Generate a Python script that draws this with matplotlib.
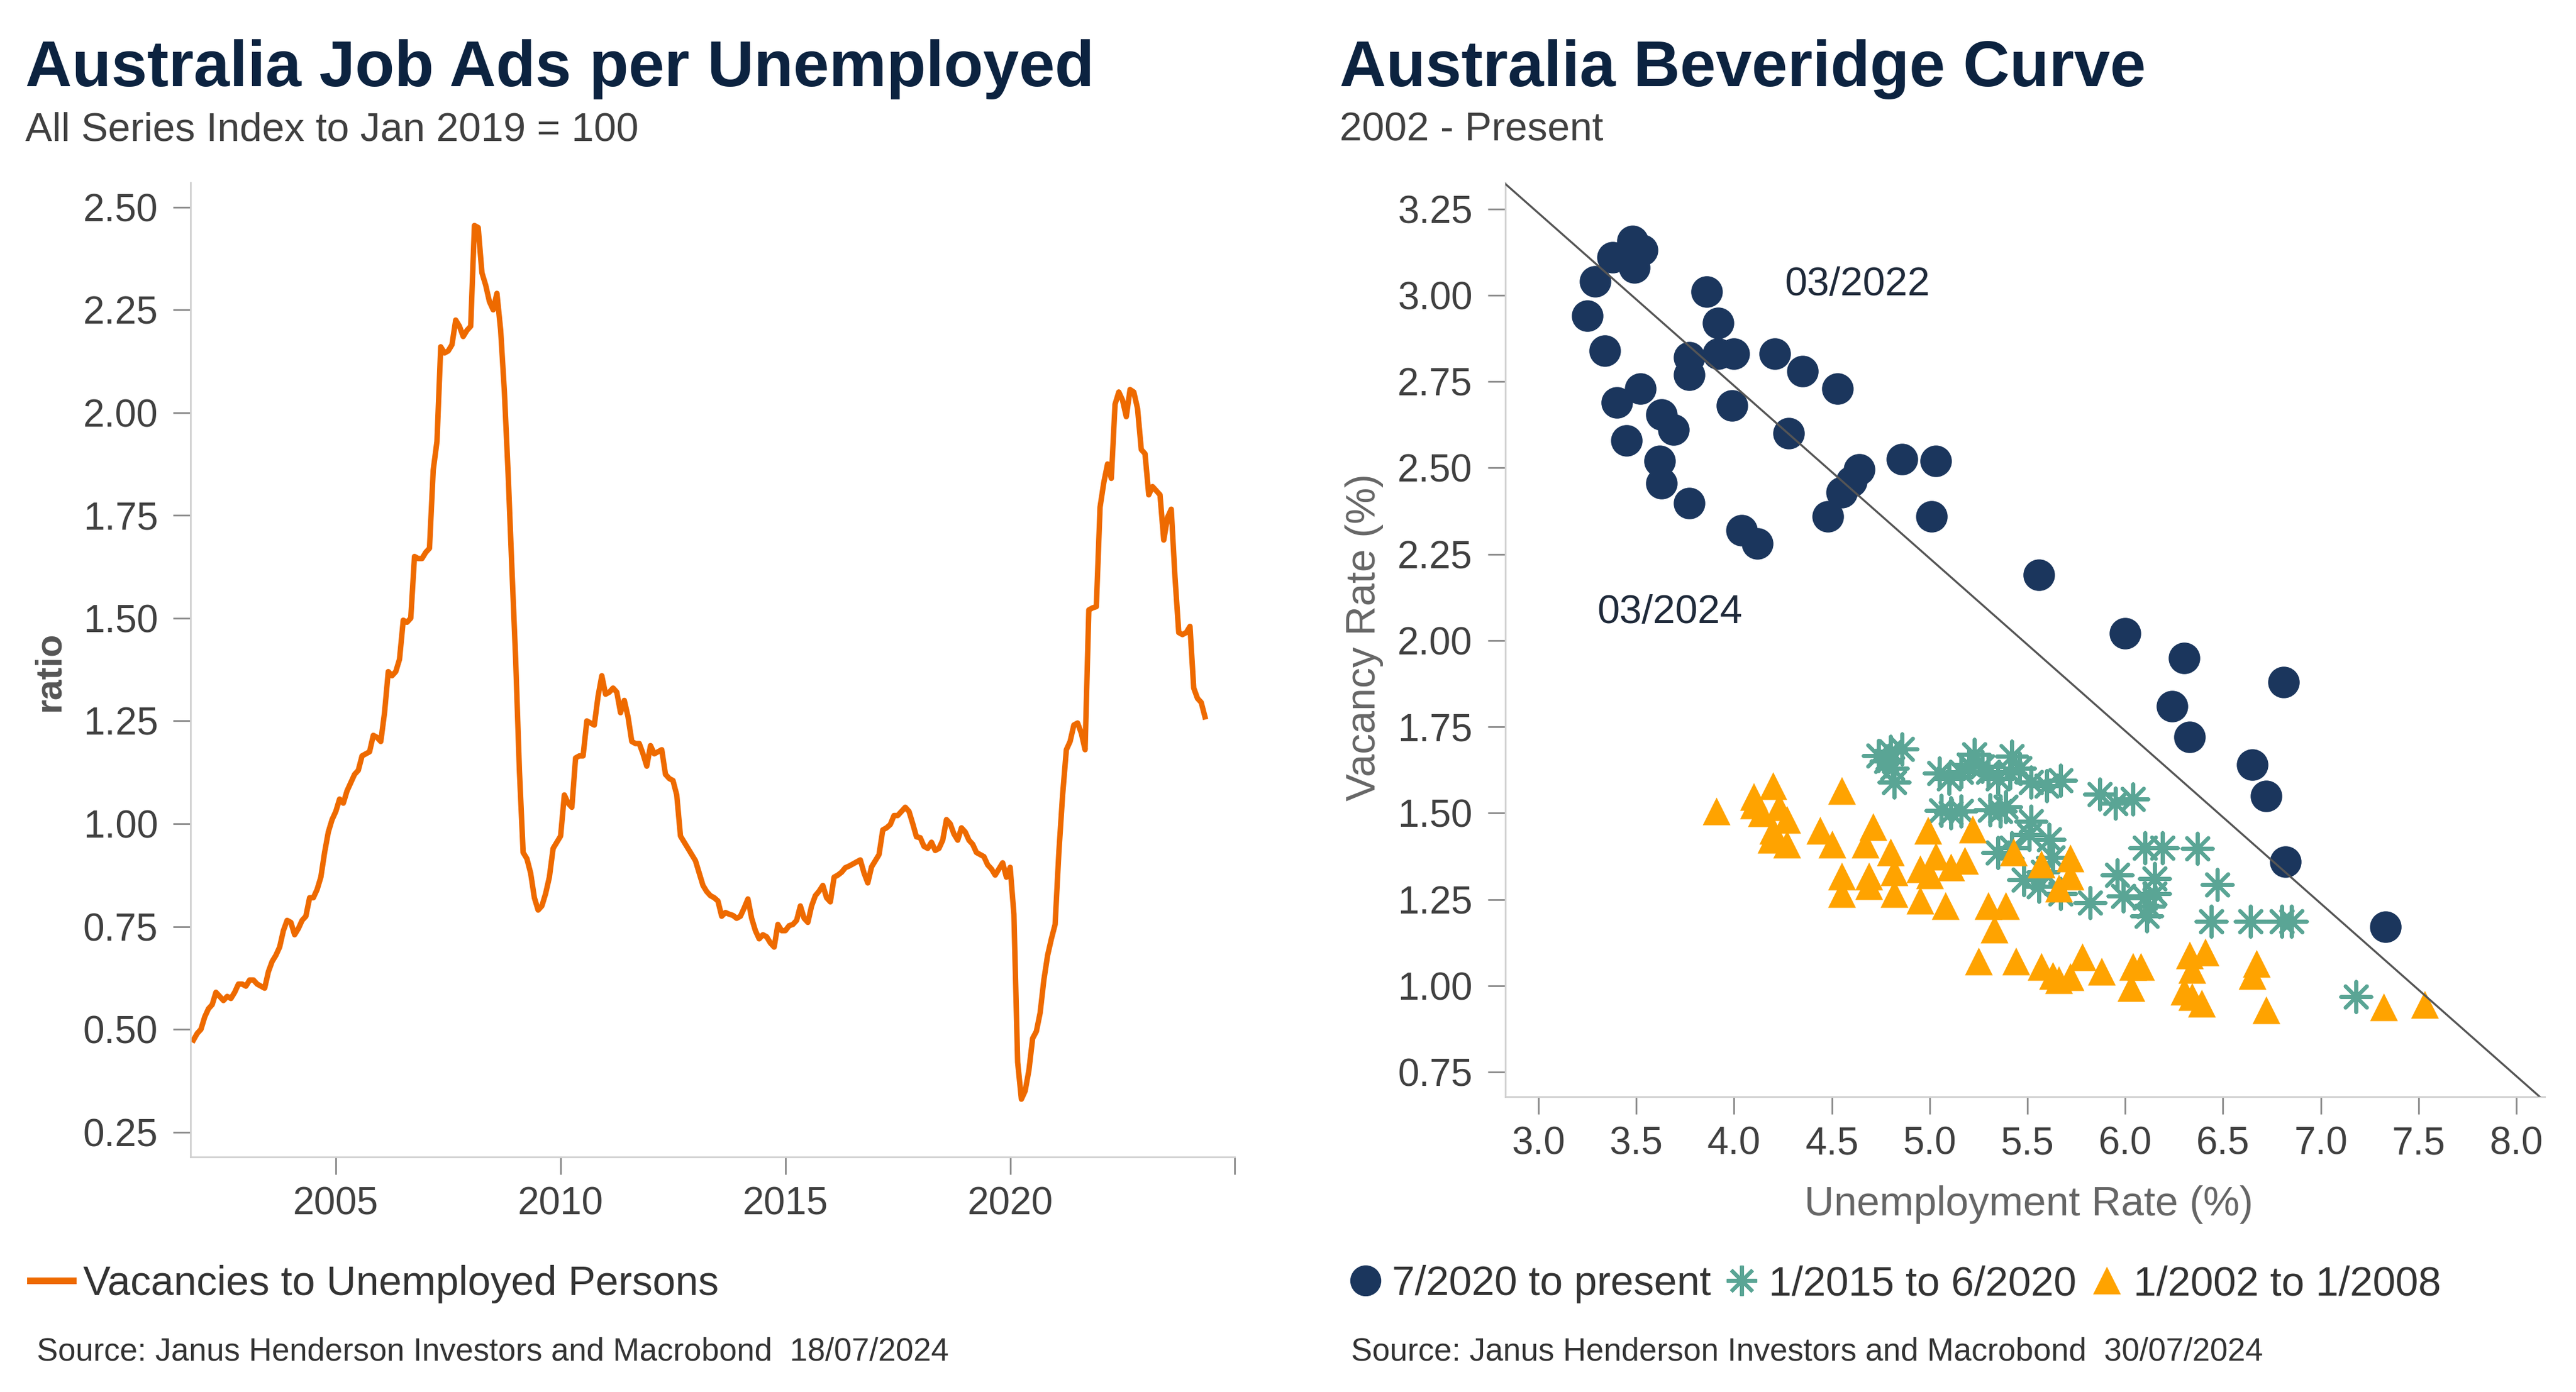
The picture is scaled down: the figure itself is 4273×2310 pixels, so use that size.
import numpy as np
import matplotlib
matplotlib.use("Agg")
import matplotlib.pyplot as plt
from matplotlib.lines import Line2D

plt.rcParams['font.family'] = ['Liberation Sans', 'DejaVu Sans']

# job ads per unemployed, monthly from Nov 2001
start_year = 2001 + 10 / 12
ratio = [
    0.474, 0.49, 0.50, 0.53, 0.55, 0.56, 0.59, 0.58, 0.57, 0.58,
    0.575, 0.59, 0.61, 0.61, 0.605, 0.62, 0.62, 0.61, 0.605, 0.60,
    0.64, 0.665, 0.68, 0.70, 0.74, 0.765, 0.76, 0.73, 0.745, 0.765,
    0.775, 0.82, 0.82, 0.84, 0.87, 0.93, 0.98, 1.01, 1.03, 1.06,
    1.05, 1.08, 1.10, 1.12, 1.13, 1.165, 1.17, 1.175, 1.215, 1.21,
    1.20, 1.27, 1.37, 1.36, 1.37, 1.40, 1.495, 1.49, 1.50, 1.65,
    1.645, 1.645, 1.66, 1.67, 1.86, 1.93,
    2.16, 2.145, 2.15, 2.165, 2.225, 2.21, 2.185, 2.20, 2.21, 2.455,
    2.45, 2.34, 2.31, 2.27, 2.25, 2.29, 2.20, 2.05, 1.85, 1.62,
    1.40, 1.13, 0.93, 0.915, 0.88, 0.82, 0.79, 0.80, 0.83, 0.87,
    0.94, 0.955, 0.97, 1.07, 1.05, 1.04, 1.16, 1.165, 1.165, 1.25,
    1.245, 1.24, 1.31, 1.36, 1.315, 1.32, 1.33, 1.32, 1.27,
    1.30, 1.26, 1.20, 1.195, 1.195, 1.17, 1.14, 1.19, 1.17, 1.175,
    1.18, 1.12, 1.11, 1.105, 1.07, 0.97, 0.955, 0.94, 0.925, 0.91,
    0.88, 0.85, 0.835, 0.825, 0.82, 0.812, 0.775, 0.784, 0.78, 0.777,
    0.77, 0.775, 0.795, 0.817, 0.77, 0.74, 0.72, 0.73, 0.725, 0.71,
    0.70, 0.755, 0.74, 0.74, 0.752, 0.755, 0.765, 0.80, 0.77, 0.76,
    0.80, 0.825, 0.836, 0.85, 0.82, 0.81, 0.87, 0.875, 0.882, 0.893,
    0.897, 0.902, 0.907, 0.912, 0.88, 0.856, 0.895, 0.91, 0.925, 0.985,
    0.99, 0.998, 1.02,
    1.02, 1.03, 1.04, 1.03, 1.00, 0.968, 0.966, 0.945, 0.94, 0.955,
    0.935, 0.94, 0.96, 1.01, 1.00, 0.975, 0.96, 0.99, 0.98, 0.96,
    0.95, 0.93, 0.925, 0.92, 0.90, 0.89, 0.875, 0.89, 0.905, 0.87,
    0.894, 0.78, 0.42, 0.33, 0.35, 0.40, 0.478, 0.495, 0.54, 0.62,
    0.68, 0.72, 0.755, 0.93, 1.07, 1.18, 1.20, 1.24, 1.245, 1.22,
    1.18, 1.52, 1.525, 1.528, 1.77, 1.83, 1.875, 1.84, 2.02, 2.05,
    2.03, 1.99, 2.056, 2.05, 2.01, 1.91, 1.90, 1.80, 1.82, 1.81,
    1.80, 1.69, 1.745, 1.765, 1.60, 1.465, 1.46, 1.465, 1.48, 1.33,
    1.305, 1.295, 1.26,
]
years = start_year + np.arange(len(ratio)) / 12

# beveridge curve points (unemployment %, vacancy %)
recent_u = [3.25, 3.29, 3.34, 3.38, 3.48, 3.49, 3.53, 3.40, 3.52, 3.45,
            3.63, 3.69, 3.62, 3.63, 3.77, 3.77, 3.77, 3.86, 3.92, 3.92,
            4.00, 3.99, 4.04, 4.12, 4.21, 4.28, 4.35, 4.53, 4.48, 4.55,
            4.60, 4.64, 4.86, 5.03, 5.01, 5.56, 6.00, 6.30, 6.24, 6.33,
            6.81, 6.65, 6.72, 6.82, 7.33]
recent_v = [2.94, 3.04, 2.84, 3.11, 3.157, 3.08, 3.13, 2.69, 2.73, 2.58,
            2.655, 2.61, 2.52, 2.456, 2.397, 2.77, 2.82, 3.01, 2.92, 2.83,
            2.83, 2.68, 2.32, 2.28, 2.83, 2.60, 2.78, 2.73, 2.36, 2.43,
            2.46, 2.495, 2.525, 2.52, 2.36, 2.19, 2.02, 1.95, 1.81, 1.72,
            1.88, 1.64, 1.55, 1.36, 1.17]

mid_u = [4.74, 4.80, 4.86, 4.81, 4.82, 4.78, 5.05, 5.10, 5.16, 5.20,
         5.23, 5.27, 5.30, 5.35, 5.42, 5.41, 5.46, 5.52, 5.60, 5.67,
         5.87, 5.95, 6.04, 5.06, 5.11, 5.16, 5.31, 5.36, 5.39, 5.52,
         5.51, 5.35, 5.42, 5.61, 5.63, 5.48, 5.56, 5.67, 5.82, 5.96,
         5.99, 6.10, 6.19, 6.37, 6.15, 6.10, 6.15, 6.11, 6.47, 6.44,
         6.64, 6.80, 6.85, 7.18, 6.12, 5.58]
mid_v = [1.667, 1.678, 1.686, 1.63, 1.59, 1.65, 1.616, 1.60, 1.62, 1.64,
         1.67, 1.635, 1.62, 1.60, 1.665, 1.615, 1.63, 1.59, 1.58, 1.595,
         1.554, 1.528, 1.54, 1.508, 1.50, 1.505, 1.51, 1.505, 1.518, 1.476,
         1.437, 1.385, 1.40, 1.424, 1.372, 1.306, 1.287, 1.267, 1.241, 1.32,
         1.26, 1.40, 1.40, 1.397, 1.31, 1.255, 1.267, 1.202, 1.293, 1.186,
         1.186, 1.186, 1.186, 0.968, 1.23, 1.33]

early_u = [3.91, 4.10, 4.20, 4.10, 4.23, 4.27, 4.19, 4.27, 4.55, 4.44,
           4.50, 4.71, 4.67, 4.80, 4.99, 5.22, 4.55, 4.55, 4.69, 4.69,
           4.82, 4.82, 4.95, 5.03, 4.95, 5.08, 5.11, 5.18, 5.00, 5.30,
           5.39, 5.33, 5.43, 5.57, 5.72, 5.66, 5.72, 5.25, 5.44, 5.57,
           5.66, 5.78, 5.72, 5.88, 5.63, 6.08, 6.04, 6.03, 6.33, 6.41,
           6.34, 6.30, 6.34, 6.39, 6.67, 6.65, 6.72, 7.32, 7.53, 4.14,
           4.20]
early_v = [1.505, 1.548, 1.58, 1.523, 1.518, 1.482, 1.424, 1.41, 1.565, 1.45,
           1.41, 1.46, 1.41, 1.388, 1.45, 1.454, 1.317, 1.267, 1.317, 1.29,
           1.33, 1.267, 1.339, 1.375, 1.248, 1.232, 1.343, 1.363, 1.32, 1.232,
           1.232, 1.163, 1.388, 1.352, 1.37, 1.283, 1.317, 1.072, 1.072, 1.056,
           1.017, 1.083, 1.026, 1.042, 1.03, 1.056, 1.056, 0.994, 1.088, 1.098,
           1.046, 0.984, 0.968, 0.949, 1.065, 1.029, 0.929, 0.938, 0.945, 1.50,
           1.45]

trend_intercept = 4.738
trend_slope = -0.5

orange = '#EE6A00'
navy = '#1B365D'
green = '#5AA595'
amber = '#FFA300'
title_c = '#0C2340'
text_c = '#404040'

fig = plt.figure(figsize=(42.73, 23.10), dpi=100)


def style_axes(ax):
    for s in ['top', 'right']:
        ax.spines[s].set_visible(False)
    for s in ['left', 'bottom']:
        ax.spines[s].set_color('#d0d0d0')
        ax.spines[s].set_linewidth(2)
    ax.tick_params(length=21, width=2, color='#8a8a8a', labelsize=46,
                   labelcolor=text_c)
    ax.tick_params(axis='y', pad=18)
    ax.tick_params(axis='x', pad=14)


# left chart
ax1 = fig.add_axes([0.0740, 0.169, 0.4054, 0.700])
ax1.plot(years, ratio, color=orange, lw=6.5)
ax1.set_xlim(2001.77, 2025.0)
ax1.set_ylim(0.19, 2.56)
ax1.set_yticks(np.arange(0.25, 2.51, 0.25))
ax1.set_yticklabels([f'{v:.2f}' for v in np.arange(0.25, 2.51, 0.25)])
ax1.set_xticks([2005, 2010, 2015, 2020, 2025])
ax1.set_xticklabels(['2005', '2010', '2015', '2020', ''])
style_axes(ax1)

fig.text(0.0193, 0.518, 'ratio', rotation=90, fontsize=44, weight='bold',
         color='#555555', ha='center', va='center')

# right chart
ax2 = fig.add_axes([0.5843, 0.212, 0.4035, 0.657])
ax2.scatter(recent_u, recent_v, s=1350, color=navy, zorder=3)
ax2.scatter(mid_u, mid_v, s=1300, marker=(8, 2, 0), color=green,
            linewidths=4.5, zorder=3)
ax2.scatter(early_u, early_v, s=1100, marker='^', color=amber,
            linewidths=0, zorder=4)
ax2.set_xlim(2.83, 8.144)
ax2.set_ylim(0.678, 3.327)
tx = np.array(ax2.get_xlim())
ax2.plot(tx, trend_intercept + trend_slope * tx, color='#555555', lw=2.4,
         zorder=5)
ax2.set_xticks(np.arange(3.0, 8.01, 0.5))
ax2.set_xticklabels([f'{v:.1f}' for v in np.arange(3.0, 8.01, 0.5)])
ax2.set_yticks(np.arange(0.75, 3.26, 0.25))
ax2.set_yticklabels([f'{v:.2f}' for v in np.arange(0.75, 3.26, 0.25)])
style_axes(ax2)
ax2.text(4.26, 3.03, '03/2022', fontsize=48, color='#1F2A3A', va='center')
ax2.text(3.30, 2.08, '03/2024', fontsize=48, color='#1F2A3A', va='center')

fig.text(0.5296, 0.542, 'Vacancy Rate (%)', rotation=90, fontsize=49,
         color='#666666', ha='center', va='center')
fig.text(0.7876, 0.1345, 'Unemployment Rate (%)', fontsize=49,
         color='#666666', ha='center', va='center')

# titles
fig.text(0.0099, 0.938, 'Australia Job Ads per Unemployed', fontsize=77,
         weight='bold', color=title_c)
fig.text(0.0099, 0.899, 'All Series Index to Jan 2019 = 100', fontsize=48,
         color=text_c)
fig.text(0.520, 0.938, 'Australia Beveridge Curve', fontsize=77,
         weight='bold', color=title_c)
fig.text(0.520, 0.899, '2002 - Present', fontsize=48, color=text_c)

# legends
leg1 = fig.legend(handles=[Line2D([], [], color=orange, lw=8)],
                  labels=['Vacancies to Unemployed Persons'],
                  loc='center left', bbox_to_anchor=(0.0116, 0.0774),
                  frameon=False, fontsize=49, handlelength=1.05,
                  handletextpad=0.25, borderpad=0, borderaxespad=0)
for t in leg1.get_texts():
    t.set_color('#333333')

handles2 = [
    Line2D([], [], marker='o', ls='', ms=36, color=navy),
    Line2D([], [], marker=(8, 2, 0), ls='', ms=36, mew=4.5, color=green),
    Line2D([], [], marker='^', ls='', ms=33, color=amber, mew=0),
]
leg2 = fig.legend(handles=handles2,
                  labels=['7/2020 to present', '1/2015 to 6/2020',
                          '1/2002 to 1/2008'],
                  loc='center left', bbox_to_anchor=(0.5245, 0.0774), ncol=3,
                  frameon=False, fontsize=49, handlelength=0.7,
                  handletextpad=0.3, columnspacing=0.4, borderpad=0,
                  borderaxespad=0)
for t in leg2.get_texts():
    t.set_color('#333333')

# sources
fig.text(0.0142, 0.0286,
         'Source: Janus Henderson Investors and Macrobond  18/07/2024',
         fontsize=38, color='#333333', va='center')
fig.text(0.5245, 0.0286,
         'Source: Janus Henderson Investors and Macrobond  30/07/2024',
         fontsize=38, color='#333333', va='center')

fig.savefig('out.png', dpi=100)
